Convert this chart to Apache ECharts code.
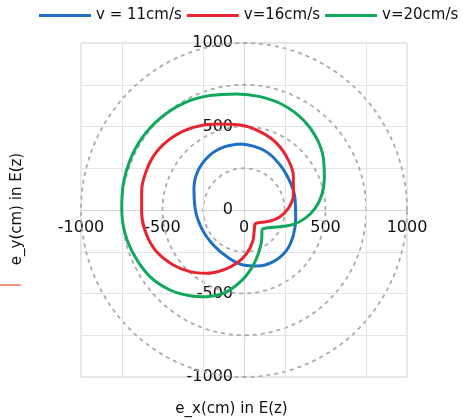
<!DOCTYPE html>
<html>
<head>
<meta charset="utf-8">
<script src="https://cdn.jsdelivr.net/npm/echarts@6/dist/echarts.min.js"></script>
<style>
html,body{margin:0;padding:0;background:#fff;}
#chart{width:463px;height:420px;}
</style>
</head>
<body>
<div id="chart"></div>
<script>
// ---- data ----
const seriesNames = ['v = 11cm/s', 'v=16cm/s', 'v=20cm/s'];
const blue = [[-14,395],[119,359],[221,270],[282,170],[313,70],[317,-50],[303,-150],[262,-240],[180,-309],[78,-335],[-4,-329],[-106,-279],[-188,-210],[-260,-110],[-300,10],[-307,130],[-280,240],[-209,329],[-117,379],[-14,395]];
const red = [[65,-95],[62,-130],[53,-190],[17,-260],[-45,-319],[-127,-359],[-229,-379],[-331,-369],[-434,-329],[-536,-250],[-597,-150],[-628,-10],[-628,110],[-597,240],[-536,349],[-434,439],[-311,495],[-168,515],[-25,509],[98,469],[201,399],[272,299],[303,200],[303,90],[272,10],[221,-40],[160,-66],[108,-74],[80,-78],[68,-84],[65,-95]];
const green = [[110,-125],[109,-170],[98,-230],[68,-309],[17,-389],[-45,-449],[-127,-499],[-229,-519],[-331,-513],[-454,-479],[-577,-399],[-669,-279],[-730,-140],[-750,10],[-740,160],[-699,299],[-628,429],[-515,549],[-372,639],[-209,685],[-45,695],[98,679],[241,629],[364,539],[446,429],[487,309],[493,190],[477,90],[436,10],[374,-50],[303,-86],[221,-100],[149,-106],[125,-110],[113,-115],[110,-125]];
const circleRadii = [250, 500, 750, 1000];
const xGridLines = [-750, -250, 250, 750];
const axisMin = -1000, axisMax = 1000;

const FONT = 'DejaVu Sans';
const colors = ['#1f6fc5', '#e82430', '#10a85a'];

const GRID = {left: 81, right: 56, top: 43, bottom: 43};
const plotW = 463 - GRID.left - GRID.right;
const plotH = 420 - GRID.top - GRID.bottom;

function circlePoints(r) {
  const pts = [];
  for (let a = 0; a <= 360; a += 3) {
    const t = a * Math.PI / 180;
    pts.push([r * Math.cos(t), r * Math.sin(t)]);
  }
  return pts;
}

const series = [];
circleRadii.forEach((r, i) => {
  const s = {
    type: 'line', name: 'c' + r, data: circlePoints(r), symbol: 'none', silent: true,
    lineStyle: {color: '#ababab', width: 1.8, type: [4, 4]}, z: 1
  };
  if (i === 0) {
    s.markLine = {
      silent: true, symbol: ['none', 'none'], label: {show: false},
      lineStyle: {color: '#e3e3e3', type: 'solid', width: 1},
      data: xGridLines.map(v => ({xAxis: v}))
    };
  }
  series.push(s);
});
[blue, red, green].forEach((d, i) => {
  series.push({
    type: 'line', name: seriesNames[i], data: d, symbol: 'none', smooth: 0.4,
    lineStyle: {color: colors[i], width: 3}, itemStyle: {color: colors[i]}, z: 5
  });
});

const chart = echarts.init(document.getElementById('chart'));
chart.setOption({
  animation: false,
  backgroundColor: '#fff',
  grid: Object.assign({show: true, borderColor: '#cfcfcf', borderWidth: 1}, GRID),
  legend: {
    data: seriesNames, top: 8, left: 39, width: 424, padding: 0, itemWidth: 52, itemHeight: 3, itemGap: 5, icon: 'rect',
    textStyle: {fontFamily: FONT, fontSize: 15, color: '#111'}
  },
  xAxis: {
    type: 'value', min: axisMin, max: axisMax, interval: 500,
    position: 'bottom', offset: -plotH / 2,
    axisLine: {onZero: false, lineStyle: {color: '#d6d6d6'}},
    axisTick: {show: false}, splitLine: {show: false},
    axisLabel: {margin: 10, fontFamily: FONT, fontSize: 16, color: '#111', formatter: v => String(v)}
  },
  yAxis: {
    type: 'value', min: axisMin, max: axisMax, interval: 250,
    position: 'left', offset: -plotW / 2,
    axisLine: {onZero: false, lineStyle: {color: '#d6d6d6'}},
    axisTick: {show: false},
    splitLine: {show: true, lineStyle: {color: '#e3e3e3'}},
    axisLabel: {margin: 11, fontFamily: FONT, fontSize: 16, color: '#111',
      formatter: v => (v % 500 === 0 ? String(v) : '')}
  },
  graphic: [
    {type: 'text', left: 'center', top: 402, style: {text: 'e_x(cm) in E(z)', font: '15px "DejaVu Sans"', fill: '#111'}},
    {type: 'text', x: 17, y: 209, rotation: Math.PI / 2,
      style: {text: 'e_y(cm) in E(z)', font: '15px "DejaVu Sans"', fill: '#111', textAlign: 'center', textVerticalAlign: 'middle'}},
    {type: 'line', shape: {x1: 0, y1: 285, x2: 21, y2: 285}, style: {stroke: '#e8704e', lineWidth: 1.5}}
  ],
  series: series
});
</script>
</body>
</html>
